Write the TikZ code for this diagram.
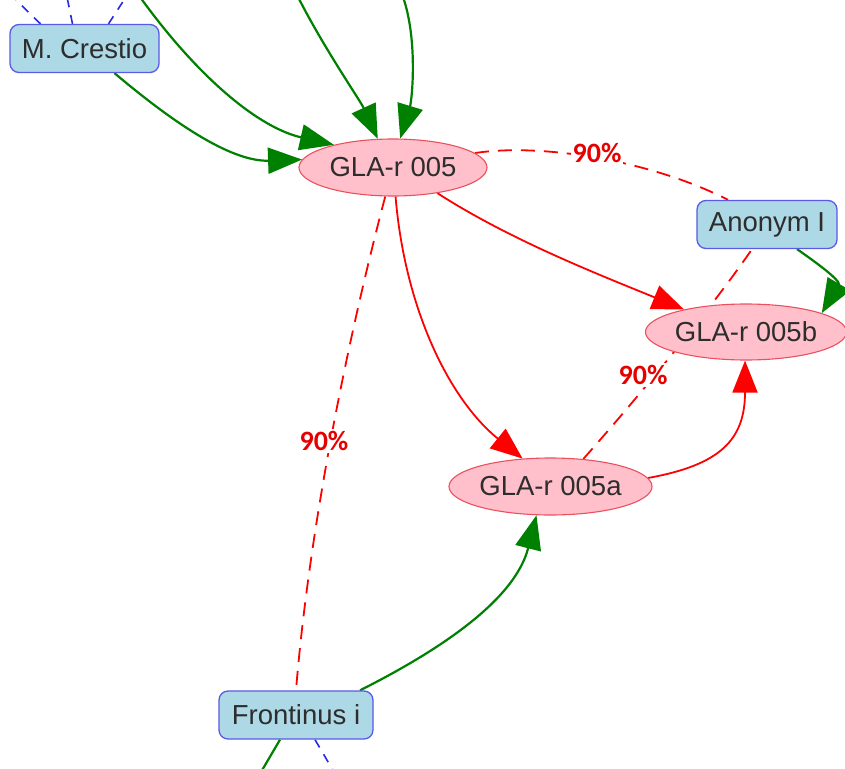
\documentclass[tikz,border=0pt]{standalone}
\usepackage{fontspec}
\setmainfont{Liberation Sans}
\newfontfamily\lblfont{Carlito}
\usetikzlibrary{arrows.meta,shapes.geometric}
\definecolor{boxfill}{RGB}{173,216,230}
\definecolor{boxdraw}{RGB}{90,90,230}
\definecolor{elfill}{RGB}{255,192,203}
\definecolor{eldraw}{RGB}{235,80,95}
\definecolor{gedge}{RGB}{0,128,0}
\definecolor{redge}{RGB}{255,0,0}
\definecolor{txt}{RGB}{45,45,45}
\definecolor{lbl}{RGB}{230,0,0}
\definecolor{bedge}{RGB}{40,40,230}
\pgfdeclarelayer{bg}
\pgfsetlayers{bg,main}
\begin{document}
\begin{tikzpicture}[x=1pt,y=-1pt,
 person/.style={draw=boxdraw, fill=boxfill, rounded corners=9pt, line width=1.3pt, minimum height=48pt, text=txt, font=\fontsize{27.5}{30}\selectfont, inner sep=0pt},
 doc/.style={ellipse, draw=eldraw, fill=elfill, line width=1.1pt, text=txt, font=\fontsize{27.5}{30}\selectfont, inner sep=0pt},
 gline/.style={draw=gedge, line width=2.2pt},
 garrow/.style={gline, -{Triangle[length=34pt,width=26pt]}},
 rline/.style={draw=redge, line width=1.8pt},
 rarrow/.style={rline, -{Triangle[length=32pt,width=25pt]}},
 rdash/.style={rline, dash pattern=on 14pt off 9pt},
 bdash/.style={draw=bedge, line width=1.6pt, dash pattern=on 9pt off 8pt},
 pct/.style={font=\lblfont\bfseries\fontsize{28}{30}\selectfont, text=lbl, fill=white, inner sep=2pt}]
\useasboundingbox (0,0) rectangle (845,768);

% nodes
\node[person, minimum width=149pt] (crestio) at (84.5,48.5) {M. Crestio};
\node[person, minimum width=140pt] (anon) at (767,224.5) {Anonym I};
\node[person, minimum width=154pt] (front) at (296,715) {Frontinus i};
\node[doc, minimum width=188pt, minimum height=57pt] (g5) at (393,167.5) {GLA-r 005};
\node[doc, minimum width=196pt, minimum height=56pt] (g5b) at (746,332) {GLA-r 005b};
\node[doc, minimum width=203pt, minimum height=57pt] (g5a) at (550.5,486.5) {GLA-r 005a};

% free ends off the picture
\coordinate (t1) at (140,-3);
\coordinate (t2) at (298,-3);
\coordinate (t3) at (403,-3);
\coordinate (c1) at (16,0);
\coordinate (c2) at (67,-3);
\coordinate (c3) at (124,0);
\coordinate (f1) at (261,772);
\coordinate (f2) at (334,772);

\begin{pgfonlayer}{bg}
\fill[white] (0,0) rectangle (845,768);
% green incoming edges to GLA-r 005
\draw[garrow] (t1) .. controls (200,80) and (260,128) .. (g5.159);
\draw[garrow] ([xshift=30pt]crestio.south) .. controls (170,120) and (230,162) .. (g5.175);
\draw[garrow] (t2) .. controls (325,50) and (360,100) .. (g5.118);
\draw[garrow] (t3) .. controls (418,40) and (412,100) .. (g5.76);
% blue dashed stubs
\draw[bdash] ([xshift=-44pt]crestio.north) -- (c1);
\draw[bdash] ([xshift=-12pt]crestio.north) -- (c2);
\draw[bdash] ([xshift=24pt]crestio.north) -- (c3);
% red dashed links
\draw[rdash] (g5.10) .. controls (540,143) and (650,160) .. ([xshift=-39pt]anon.north);
\draw[rdash] (g5.255) .. controls (350,330) and (310,520) .. (front.north);
\draw[rdash] (g5a.40) .. controls (640,395) and (710,310) .. ([xshift=-15pt]anon.south);
% red arrows
\draw[rarrow] (g5.330) .. controls (510,240) and (600,275) .. (g5b.160);
\draw[rarrow] (g5.275) .. controls (405,310) and (450,400) .. (g5a.135);
\draw[rarrow] (g5a.5) .. controls (720,465) and (745,440) .. (g5b.268);
% green arrows
\draw[garrow] ([xshift=30pt]anon.south) .. controls (830,272) and (840,282) .. (g5b.14);
\draw[garrow] ([xshift=64pt]front.north) .. controls (440,650) and (515,600) .. (g5a.244);
\draw[gline] ([xshift=-16pt]front.south) -- (f1);
\draw[bdash] ([xshift=19pt]front.south) -- (f2);
\end{pgfonlayer}

% labels
\node[pct] (l1) at (597,153) {90\%};
\node[pct] (l2) at (324,441) {90\%};
\node[pct] (l3) at (643,375) {90\%};
\end{tikzpicture}
\end{document}
